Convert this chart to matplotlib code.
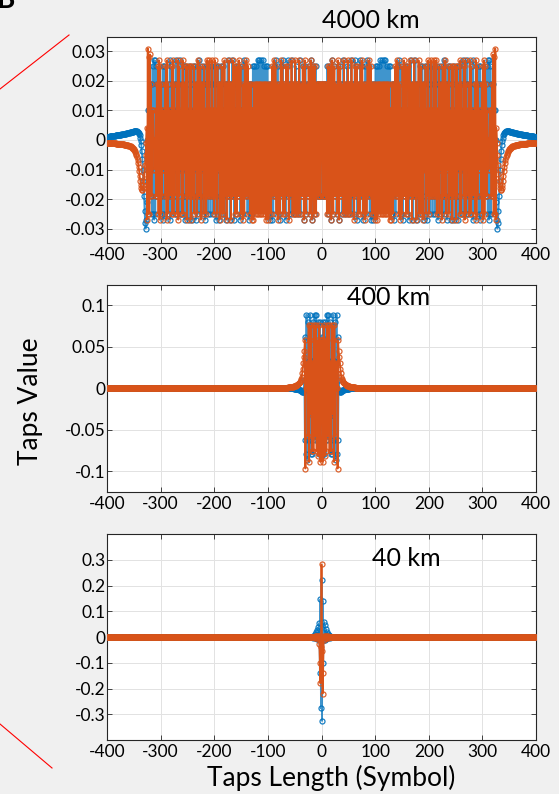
import numpy as np
import matplotlib
matplotlib.use("Agg")
import matplotlib.pyplot as plt
from matplotlib.lines import Line2D

# ======================================================================
# 1. DATOS (valores de taps en unidades de 1e-3)
# ======================================================================
# --- 4000 km: taps n = 0..325 (parte simétrica, h[-n] = h[n]) ---
re_4000_nucleo = [
    19, -19, -19, 19, 19, -19, -19, 19, 19, -19,
    -10, 25, 10, -25, -10, 25, 10, -27, 0, 27,
    0, -25, 10, 25, -10, -19, 19, 19, -25, -10,
    25, 0, -27, 0, 25, -10, -19, 19, 19, -25,
    -10, 27, 0, -25, 10, 19, -19, -10, 25, 0,
    -25, 10, 19, -19, -10, 27, 0, -25, 19, 19,
    -25, 0, 27, -10, -19, 25, 10, -27, 10, 19,
    -19, -10, 27, -10, -19, 25, 0, -27, 10, 19,
    -25, 0, 25, -19, -10, 27, -10, -19, 25, 0,
    -25, 19, 10, -27, 10, 19, -27, 10, 19, -25,
    0, 25, -19, 0, 25, -19, -10, 25, -19, -10,
    27, -19, -10, 27, -19, -10, 27, -19, -10, 27,
    -19, -10, 25, -19, -10, 25, -19, 0, 25, -25,
    0, 19, -25, 10, 19, -27, 19, 10, -25, 19,
    0, -19, 25, -10, -10, 27, -19, 0, 25, -25,
    10, 10, -27, 19, 0, -19, 25, -10, -10, 25,
    -25, 10, 10, -27, 19, 0, -19, 27, -19, 0,
    19, -27, 19, 0, -19, 27, -19, 0, 19, -27,
    19, 0, -10, 25, -25, 10, 10, -25, 25, -19,
    0, 19, -27, 25, -10, -10, 25, -27, 19, 0,
    -10, 25, -25, 19, 0, -19, 25, -25, 19, 0,
    -19, 25, -25, 19, 0, -10, 25, -27, 19, -10,
    -10, 19, -25, 25, -19, 0, 10, -19, 27, -25,
    19, 0, -10, 19, -27, 25, -19, 10, 10, -19,
    25, -27, 19, -10, 0, 10, -19, 25, -27, 19,
    -10, 0, 10, -19, 25, -27, 25, -19, 10, 0,
    -10, 19, -25, 27, -25, 19, -10, 0, 0, -10,
    19, -25, 27, -25, 19, -19, 10, 0, -10, 10,
    -19, 25, -27, 27, -25, 19, -19, 10, 0, 0,
    10, -19, 19, -25, 25, -27, 25, -25, 19, -19,
    10, -10, 0, 0, -10, 10, -19, 19, -19, 25,
    -25, 27, -27, 27, -25, 25, -25, 19, -19, 19,
    -10, 10, -10, 10, 0, 0,
]
im_4000_nucleo = [
    19, 19, -19, -19, 19, 19, -19, -19, 19, 19,
    -25, -10, 25, 10, -25, -10, 25, 0, -27, 0,
    27, -10, -25, 10, 25, -19, -19, 19, 10, -25,
    -10, 27, 0, -27, 10, 25, -19, -19, 19, 10,
    -25, 0, 27, -10, -25, 19, 19, -25, -10, 27,
    -10, -25, 19, 19, -25, 0, 27, -10, -19, 19,
    10, -27, 0, 25, -19, -10, 25, 0, -25, 19,
    19, -25, 0, 25, -19, -10, 27, 0, -25, 19,
    10, -27, 10, 19, -25, 0, 25, -19, -10, 27,
    -10, -19, 25, 0, -25, 19, 0, -25, 19, 10,
    -27, 10, 19, -27, 10, 19, -25, 10, 19, -25,
    0, 19, -25, 0, 19, -25, 0, 19, -25, 0,
    19, -25, 10, 19, -25, 10, 19, -27, 10, 10,
    -27, 19, 10, -25, 19, 0, -19, 25, -10, -19,
    27, -19, -10, 25, -25, 0, 19, -27, 10, 10,
    -25, 25, 0, -19, 27, -19, -10, 25, -25, 10,
    10, -25, 25, 0, -19, 27, -19, 0, 19, -27,
    19, 0, -19, 27, -19, 0, 19, -27, 19, 0,
    -19, 27, -25, 10, 10, -25, 25, -10, -10, 19,
    -27, 19, 0, -10, 25, -25, 10, 0, -19, 27,
    -25, 10, 10, -19, 27, -19, 10, 10, -19, 27,
    -19, 10, 10, -19, 27, -25, 10, 0, -19, 25,
    -25, 19, -10, -10, 19, -27, 25, -19, 0, 10,
    -19, 27, -25, 19, 0, -10, 19, -25, 25, -19,
    10, 0, -19, 25, -27, 25, -19, 10, 0, -19,
    25, -27, 25, -19, 10, 0, -10, 19, -25, 27,
    -25, 19, -10, 0, 10, -19, 25, -27, 27, -25,
    19, -10, 0, 10, -19, 19, -25, 27, -25, 25,
    -19, 10, 0, 0, 10, -19, 19, -25, 27, -27,
    25, -19, 19, -10, 10, 0, -10, 10, -19, 19,
    -25, 25, -27, 27, -25, 25, -19, 19, -19, 10,
    -10, 0, 0, 0, 10, -10, 10, -19, 19, -19,
    29, -25, 28, -25, 31, -27,
]
# colas n = 326..400
re_4000_cola = [
    -21, -27, -30, -28, -24, -19, -14, -10, -6.5, -3.8,
    -1.8, -0.3, 0.8, 1.6, 2.1, 2.5, 2.7, 2.85, 2.95, 3.0,
    3.0, 3.0, 3.0, 2.95, 2.9,
    2.85, 2.8, 2.75, 2.7, 2.65, 2.6, 2.55, 2.5, 2.45, 2.4,
    2.35, 2.3, 2.26, 2.22, 2.18, 2.14, 2.1, 2.06, 2.02, 1.98,
    1.94, 1.9, 1.87, 1.84, 1.81, 1.78, 1.75, 1.72, 1.69, 1.66,
    1.63, 1.6, 1.57, 1.54, 1.51, 1.48, 1.45, 1.42, 1.39, 1.36,
    1.33, 1.3, 1.27, 1.24, 1.21, 1.18, 1.15, 1.12, 1.09, 1.06,
]
im_4000_cola = [
    4, -1, -5, -8.5, -11.5, -13.8, -15.4, -16.4, -16.9, -16.8,
    -16.2, -15.2, -13.8, -12.2, -10.6, -9.2, -7.9, -6.8, -5.9, -5.2,
    -4.6, -4.1, -3.7, -3.4, -3.1,
    -2.9, -2.7, -2.55, -2.4, -2.3, -2.2, -2.1, -2.0, -1.95, -1.9,
    -1.85, -1.8, -1.75, -1.7, -1.66, -1.62, -1.58, -1.55, -1.52, -1.49,
    -1.46, -1.43, -1.4, -1.38, -1.36, -1.34, -1.32, -1.3, -1.28, -1.26,
    -1.24, -1.22, -1.2, -1.18, -1.16, -1.14, -1.12, -1.1, -1.08, -1.06,
    -1.04, -1.02, -1.0, -0.98, -0.96, -0.94, -0.92, -0.9, -0.88, -0.86,
]

# --- 400 km: taps n = 0..31 y colas n = 32..70 (resto = 0) ---
re_400_nucleo = [
    62, -81, -62, 80, 33, -80, 0, 80, -62, -33,
    89, -33, -62, 89, -33, -33, 80, -80, 33, 33,
    -80, 89, -62, 33, 33, -62, 80, -87, 89, -80,
    62, -62,
]
im_400_nucleo = [
    58, 58, -89, -31, 76, 31, -82, 31, 58, -76,
    0, 76, -58, 0, 76, -76, 31, 31, -76, 76,
    -31, 0, 58, -89, 76, -58, 31, 0, 0, 31,
    -97, 58,
]
re_400_cola = [
    10, -2, -4.5, -4.5, -4, -3.5, -3, -2.6, -2.2, -1.9,
    -1.6, -1.4, -1.2, -1.0, -0.9, -0.8, -0.7, -0.6, -0.5,
    -0.4, -0.35, -0.3, -0.3, -0.25, -0.2, -0.2, -0.15, -0.15, -0.1,
    -0.1, -0.1, -0.05, -0.05, -0.05, 0, 0, 0, 0, 0,
]
im_400_cola = [
    45, 38, 30, 23, 18, 14, 11.5, 9.5, 8, 7,
    6, 5.3, 4.7, 4.2, 3.8, 3.4, 3.1, 2.8, 2.5, 2.3,
    2.1, 1.9, 1.7, 1.6, 1.5, 1.4, 1.3, 1.2, 1.1, 1.0,
    0.9, 0.8, 0.7, 0.6, 0.5, 0.4, 0.3, 0.2, 0.1,
]

# --- 40 km: taps n = -16..16 (resto = 0) ---
re_40 = [
    2, -2, 5, -3, 10, -4, 18, -6, 27, -8, 38, -10, 55, -140, 147, -277,
    222,
    -326, 140, -100, 60, -12, 45, -10, 30, -7, 20, -5, 12, -3, 6, -2, 2,
]
im_40 = [
    0, 1, -1, 2, -2, 2, -3, 3, -4, 4, -5, 4, -27, -100, -180, -40,
    282,
    -56, -220, -140, -10, 4, -5, 4, -4, 3, -3, 2, -2, 2, -1, 1, 0,
]

distancias = ["4000 km", "400 km", "40 km"]
x_ticks = [-400, -300, -200, -100, 0, 100, 200, 300, 400]
y_ticks = [
    [-0.03, -0.02, -0.01, 0, 0.01, 0.02, 0.03],
    [-0.1, -0.05, 0, 0.05, 0.1],
    [-0.3, -0.2, -0.1, 0, 0.1, 0.2, 0.3],
]
y_etiquetas = [
    ["-0.03", "-0.02", "-0.01", "0", "0.01", "0.02", "0.03"],
    ["-0.1", "-0.05", "0", "0.05", "0.1"],
    ["-0.3", "-0.2", "-0.1", "0", "0.1", "0.2", "0.3"],
]
y_lims = [(-0.035, 0.035), (-0.125, 0.125), (-0.4, 0.4)]

N_MAX = 400
n = np.arange(-N_MAX, N_MAX + 1)


def simetrico(mitad):
    """Mitad n = 0..N -> señal completa n = -N..N con h[-n] = h[n]."""
    mitad = np.asarray(mitad, dtype=float)
    return np.concatenate([mitad[:0:-1], mitad])


def rellenar(completo):
    """Centra una señal -k..k dentro de -400..400 con ceros."""
    completo = np.asarray(completo, dtype=float)
    k = (len(completo) - 1) // 2
    out = np.zeros(2 * N_MAX + 1)
    out[N_MAX - k:N_MAX + k + 1] = completo
    return out


series = [
    (simetrico(re_4000_nucleo + re_4000_cola), simetrico(im_4000_nucleo + im_4000_cola)),
    (rellenar(simetrico(re_400_nucleo + re_400_cola)), rellenar(simetrico(im_400_nucleo + im_400_cola))),
    (rellenar(re_40), rellenar(im_40)),
]

# ======================================================================
# 2. FIGURA
# ======================================================================
plt.rcParams.update({
    "font.family": "Lato",
    "font.size": 12,
    "axes.unicode_minus": False,
})

AZUL = "#0072BD"
NARANJA = "#D95319"
GRIS_EJE = "#262626"
FONDO = "#F0F0F0"

fig = plt.figure(figsize=(5.59, 7.94), dpi=100, facecolor=FONDO)

W, H = 559.0, 794.0
cajas = [(107, 36.7, 536, 243.3), (107, 284.7, 536, 491.7), (107, 534, 536, 740)]
titulos = [(371, 28.3), (388.7, 305), (406, 565.7)]

for i, (x0, y0, x1, y1) in enumerate(cajas):
    ax = fig.add_axes([x0 / W, 1 - y1 / H, (x1 - x0) / W, (y1 - y0) / H])
    re, im = series[i]
    for y, c, a in ((re, AZUL, 0.75), (im, NARANJA, 1.0)):
        ax.plot(n, y * 1e-3, "-", color=c, lw=1.3, alpha=a, zorder=3)
        ax.plot(n, y * 1e-3, "o", color=c, ms=3.6, mfc="none", mew=0.9,
                alpha=0.9, zorder=3)
    ax.set_xlim(-400, 400)
    ax.set_ylim(*y_lims[i])
    ax.set_xticks(x_ticks)
    ax.set_xticklabels([str(t) for t in x_ticks])
    ax.set_yticks(y_ticks[i])
    ax.set_yticklabels(y_etiquetas[i])
    ax.grid(True, color="#E2E2E2", lw=0.7, zorder=0)
    ax.set_axisbelow(True)
    for s in ax.spines.values():
        s.set_color(GRIS_EJE)
        s.set_linewidth(0.8)
    ax.tick_params(axis="both", direction="in", length=3.5, width=0.6,
                   colors=GRIS_EJE, labelcolor="black", labelsize=12.5,
                   top=True, right=True)
    ax.tick_params(axis="y", pad=1)
    ax.tick_params(axis="x", pad=3)

    tx, ty = titulos[i]
    fig.text(tx / W, 1 - ty / H, distancias[i], fontsize=18,
             ha="center", va="baseline", color="black", zorder=10)

fig.text(331.5 / W, 1 - 786 / H, "Taps Length (Symbol)", fontsize=19,
         ha="center", va="baseline")
fig.text(43 / W, 1 - 401.5 / H, "Taps Value", fontsize=19, rotation=90,
         ha="right", va="center")

# letra del panel (recortada arriba) y líneas rojas de zoom
fig.text(-3 / W, 1 - 8 / H, "B", fontsize=20, fontweight="bold",
         ha="left", va="baseline")
fig.add_artist(Line2D([0, 69 / W], [1 - 89 / H, 1 - 35 / H], color="red", lw=0.8))
fig.add_artist(Line2D([0, 52 / W], [1 - 724 / H, 1 - 768 / H], color="red", lw=0.8))

fig.savefig("out.png", dpi=100, facecolor=FONDO)
